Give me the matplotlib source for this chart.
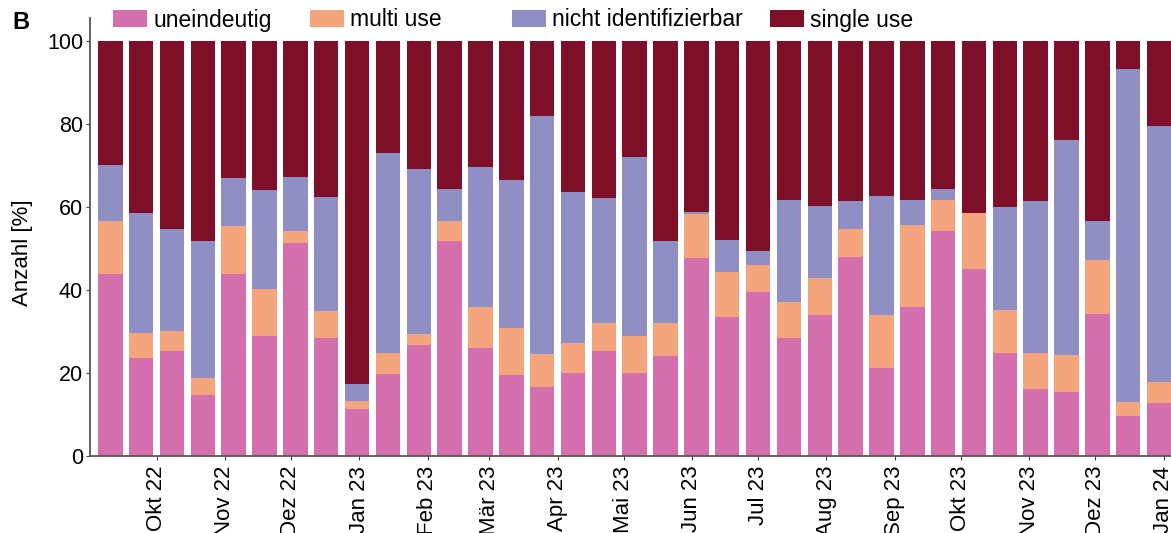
import numpy as np
import pandas as pd
import matplotlib
matplotlib.use("Agg")
import matplotlib.pyplot as plt
import matplotlib.dates as mdates
from matplotlib.patches import Patch

plt.rcParams["font.family"] = ["Liberation Sans", "DejaVu Sans"]

# biweekly samples
dates = pd.date_range("2022-09-10", periods=35, freq="14D")
tick_months = pd.date_range("2022-10-01", "2024-01-01", freq="MS")

uneindeutig = [43.9, 23.5, 25.3, 14.8, 43.9, 28.9, 51.4, 28.5, 11.3, 19.8,
               26.7, 51.9, 26.1, 19.4, 16.7, 19.9, 25.4, 20.1, 24.2, 47.8,
               33.4, 39.6, 28.4, 34.0, 48.0, 21.1, 36.0, 54.1, 45.0, 24.9,
               16.1, 15.3, 34.1, 9.6, 12.7]
multi_use = [12.6, 6.1, 4.8, 4.0, 11.6, 11.3, 2.8, 6.4, 2.0, 5.1,
             2.6, 4.6, 9.7, 11.4, 7.8, 7.4, 6.6, 8.9, 7.9, 10.4,
             10.9, 6.3, 8.6, 8.8, 6.7, 12.9, 19.7, 7.6, 13.5, 10.3,
             8.6, 9.0, 13.0, 3.5, 5.2]
nicht_ident = [13.5, 28.9, 24.6, 33.0, 11.4, 23.8, 13.1, 27.6, 4.0, 48.0,
               39.8, 7.8, 33.7, 35.7, 57.4, 36.4, 30.1, 42.9, 19.7, 0.5,
               7.7, 3.5, 24.7, 17.5, 6.8, 28.7, 6.0, 2.6, 0.0, 24.7,
               36.7, 51.8, 9.4, 80.1, 61.7]
single_use = [30.0, 41.5, 45.3, 48.2, 33.1, 36.0, 32.7, 37.5, 82.7, 27.1,
              30.9, 35.7, 30.5, 33.5, 18.1, 36.3, 37.9, 28.1, 48.2, 41.3,
              48.0, 50.6, 38.3, 39.7, 38.5, 37.3, 38.3, 35.7, 41.5, 40.1,
              38.6, 23.9, 43.5, 6.8, 20.4]

labels = ["uneindeutig", "multi use", "nicht identifizierbar", "single use"]
colors = ["#D56EAC", "#F5A57D", "#8F8FC4", "#7D1028"]

month_names = ["Jan", "Feb", "Mär", "Apr", "Mai", "Jun",
               "Jul", "Aug", "Sep", "Okt", "Nov", "Dez"]


def main():
    fig = plt.figure(figsize=(11.71, 5.33), dpi=100)
    ax = fig.add_axes([90 / 1171, 1 - 456 / 533, 1 - 90 / 1171, (456 - 18) / 533])

    x = mdates.date2num(dates)
    bottom = np.zeros(len(x))
    for vals, col in zip([uneindeutig, multi_use, nicht_ident, single_use], colors):
        vals = np.array(vals)
        ax.bar(x, vals, width=11.1, bottom=bottom, color=col, linewidth=0)
        bottom += vals

    ax.set_xlim(x[0] - 9.2, x[0] + 481.4)
    ax.set_ylim(0, 105.5)
    ax.set_yticks([0, 20, 40, 60, 80, 100])

    ax.set_xticks(mdates.date2num(tick_months))
    ax.set_xticklabels(
        ["{} {:02d}".format(month_names[d.month - 1], d.year % 100) for d in tick_months],
        rotation=90, va="top", ha="center",
    )
    ax.tick_params(axis="x", labelsize=16, length=3, color="#444444", pad=4)
    ax.tick_params(axis="y", labelsize=15.5, length=3, color="#444444", pad=2)

    for side in ["top", "right"]:
        ax.spines[side].set_visible(False)
    for side in ["left", "bottom"]:
        ax.spines[side].set_color("#555555")
        ax.spines[side].set_linewidth(1.3)

    ax.set_ylabel("Anzahl [%]", fontsize=16)
    ax.yaxis.set_label_coords(-0.053, 0.465)

    # legend entries at their own spots across the top
    legend_x = [113, 310, 512, 770]
    for lab, col, lx in zip(labels, colors, legend_x):
        fig.legend(
            handles=[Patch(facecolor=col, edgecolor="none")], labels=[lab],
            loc="center left", bbox_to_anchor=(lx / 1171, 1 - 20 / 533),
            frameon=False, fontsize=16.5, handlelength=1.5, handleheight=0.7,
            handletextpad=0.25, borderpad=0, borderaxespad=0,
        )

    fig.text(12 / 1171, 1 - 22 / 533, "B", fontsize=17, fontweight="bold", va="center")

    fig.savefig("out.png", dpi=100)


if __name__ == "__main__":
    main()
